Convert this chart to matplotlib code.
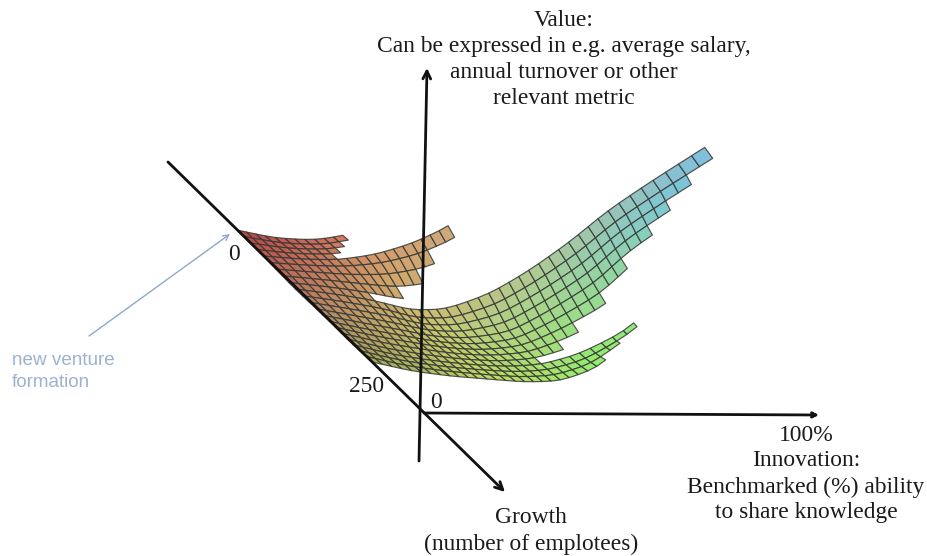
import numpy as np
import matplotlib
matplotlib.use("Agg")
import matplotlib.pyplot as plt
from matplotlib.collections import PolyCollection

# Surface, in picture pixels.
# Key positions along "innovation" (columns) and "growth" (rows).
innovation_keys = [0, .1, .2, .3, .4, .5, .6, .7, .8, .9, 1]
growth_keys = [0, .22, .42, .63, .85, 1]
surface_x = [
    [237, 275, 315, 352, 390, 430, 470, 510, 550, 590, 630],
    [267, 305, 340, 378, 415, 450, 482, 515, 550, 590, 635],
    [294, 335, 375, 410, 445, 490, 530, 570, 610, 655, 708],
    [325, 365, 403, 435, 468, 510, 550, 595, 630, 675, 728],
    [352, 392, 430, 468, 505, 540, 578, 625, 665, 710, 755],
    [372, 412, 450, 487, 525, 560, 597, 632, 670, 710, 760],
]
surface_y = [
    [230, 238, 240, 234, 215, 190, 160, 130, 100,  70,  40],
    [260, 262, 262, 256, 246, 231, 205, 175, 145, 115,  80],
    [288, 293, 300, 311, 311, 294, 271, 243, 211, 181, 148],
    [317, 325, 332, 338, 340, 335, 313, 285, 252, 222, 188],
    [344, 354, 360, 364, 366, 364, 355, 335, 300, 265, 225],
    [362, 371, 376, 379, 382, 381, 368, 337, 305, 270, 235],
]
# How many cells of each grid row are drawn
row_cells = [11, 10, 9, 8, 20, 17, 15, 12, 8,
             40, 38, 36, 34, 31, 28, 25, 23, 20, 29, 27, 25]
n_columns = 40

color_innovation = [0, .3, .6, 1]
color_growth = [0, .5, 1]
surface_colors = [
    [(190, 70, 70), (215, 130, 105), (228, 160, 130), (228, 160, 130)],
    [(185, 130, 100), (205, 195, 110), (165, 210, 150), (110, 195, 240)],
    [(165, 170, 90), (190, 220, 100), (145, 240, 105), (145, 240, 105)],
]

value_axis = [(419, 461), (427, 68)]
innovation_axis = [(424, 413), (819, 415)]
growth_axis = [(168, 162), (505, 492)]
venture_arrow = [(89, 336), (230, 234)]

labels = [
    (563.5, 59.5, "Value:\nCan be expressed in e.g. average salary,\nannual turnover or other\nrelevant metric"),
    (234, 254, "0"),
    (367, 387, "250"),
    (436, 403, "0"),
    (806, 474, "100%\nInnovation:\nBenchmarked (%) ability\nto share knowledge"),
    (531, 531, "Growth\n(number of emplotees)"),
]

fig = plt.figure(figsize=(9.27, 5.56), dpi=100)
ax = fig.add_axes([0, 0, 1, 1])
ax.set_xlim(0, 927)
ax.set_ylim(556, 0)
ax.axis('off')


def smooth(a, axis, passes=2):
    a = np.moveaxis(a.copy(), axis, 0)
    for _ in range(passes):
        a[1:-1] = (a[:-2] + 2 * a[1:-1] + a[2:]) / 4
    return np.moveaxis(a, 0, axis)


def resample(table, rows_out, cols_out, row_keys, col_keys):
    t = np.asarray(table, float)
    a = np.array([np.interp(cols_out, col_keys, r) for r in t])
    return np.array([np.interp(rows_out, row_keys, c) for c in a.T]).T


n_rows = len(row_cells)
t_out = np.linspace(0, 1, n_rows + 1)
s_out = np.linspace(0, 1, n_columns + 1)
X = resample(surface_x, t_out, s_out, growth_keys, innovation_keys)
Y = resample(surface_y, t_out, s_out, growth_keys, innovation_keys)
X, Y = smooth(smooth(X, 0), 1), smooth(smooth(Y, 0), 1)
C = np.stack([resample(np.array(surface_colors)[:, :, k], t_out, s_out,
                       color_growth, color_innovation) for k in range(3)], -1) / 255

polys, faces = [], []
for i, n in enumerate(row_cells):
    for j in range(n):
        polys.append([(X[i, j], Y[i, j]), (X[i, j + 1], Y[i, j + 1]),
                      (X[i + 1, j + 1], Y[i + 1, j + 1]), (X[i + 1, j], Y[i + 1, j])])
        faces.append(C[i, j])
ax.add_collection(PolyCollection(polys, facecolors=faces, edgecolors=(0.2, 0.22, 0.2, 0.85),
                                 linewidths=0.85, zorder=2))


def arrow(seg, color, lw, ms, z=3):
    ax.annotate("", xy=seg[1], xytext=seg[0], zorder=z,
                arrowprops=dict(arrowstyle="->", color=color, lw=lw, mutation_scale=ms,
                                shrinkA=0, shrinkB=0))


arrow(value_axis, "#111111", 2.0, 14)
arrow(innovation_axis, "#111111", 2.0, 8)
arrow(growth_axis, "#111111", 2.0, 14)
arrow(venture_arrow, "#8fa8cc", 1.0, 10)

for x, y, s in labels:
    ax.text(x, y, s, ha='center', va='center', family='Liberation Serif', fontsize=16.9,
            color="#1a1a1a", linespacing=1.3, zorder=4)
ax.text(12, 371.5, "new venture\nformation", ha='left', va='center', family='Liberation Sans',
        fontsize=13.6, color="#9db2d2", linespacing=1.32, zorder=4)

fig.savefig("out.png", dpi=100)
